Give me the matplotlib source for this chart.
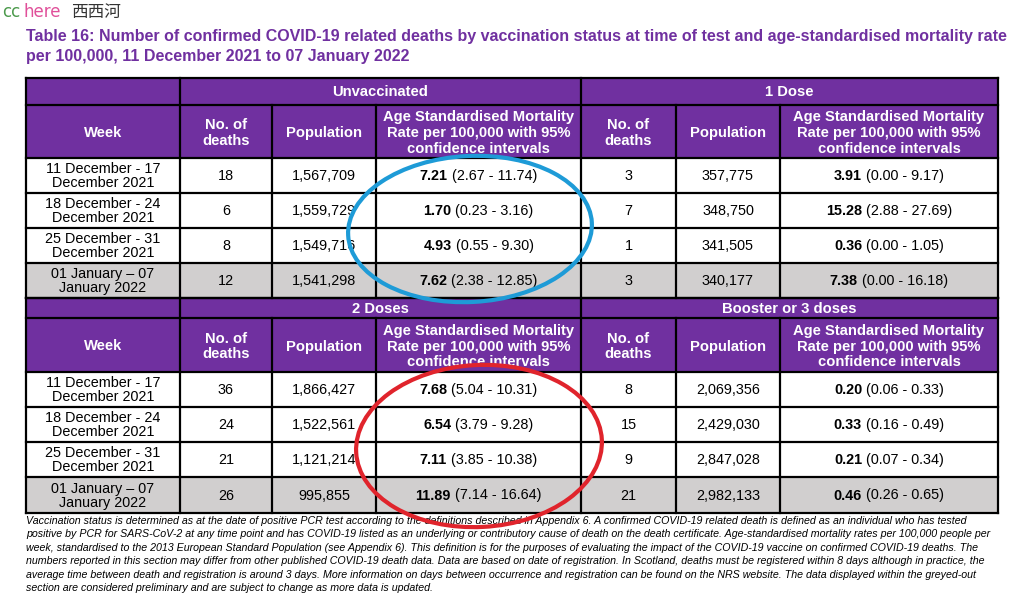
#!/usr/bin/env python3
"""Redraw Table 16 (COVID-19 deaths by vaccination status) as a matplotlib figure."""

import matplotlib.pyplot as plt
from matplotlib.patches import Ellipse, Rectangle

plt.rcParams["font.family"] = ["Liberation Sans", "DejaVu Sans"]

PURPLE = "#7030A0"
GREY = "#D1CFCF"

TITLE_LINES = [
    "Table 16: Number of confirmed COVID-19 related deaths by vaccination status at time of test and age-standardised mortality rate",
    "per 100,000, 11 December 2021 to 07 January 2022",
]

WEEKS = [
    "11 December - 17\nDecember 2021",
    "18 December - 24\nDecember 2021",
    "25 December - 31\nDecember 2021",
    "01 January \u2013 07\nJanuary 2022",
]
SUB_HEADERS = [
    "No. of\ndeaths",
    "Population",
    "Age Standardised Mortality\nRate per 100,000 with 95%\nconfidence intervals",
]

GROUPS = ["Unvaccinated", "1 Dose", "2 Doses", "Booster or 3 doses"]
deaths = {
    "Unvaccinated": [18, 6, 8, 12],
    "1 Dose": [3, 7, 1, 3],
    "2 Doses": [36, 24, 21, 26],
    "Booster or 3 doses": [8, 15, 9, 21],
}
population = {
    "Unvaccinated": [1567709, 1559729, 1549716, 1541298],
    "1 Dose": [357775, 348750, 341505, 340177],
    "2 Doses": [1866427, 1522561, 1121214, 995855],
    "Booster or 3 doses": [2069356, 2429030, 2847028, 2982133],
}
rate = {
    "Unvaccinated": [7.21, 1.70, 4.93, 7.62],
    "1 Dose": [3.91, 15.28, 0.36, 7.38],
    "2 Doses": [7.68, 6.54, 7.11, 11.89],
    "Booster or 3 doses": [0.20, 0.33, 0.21, 0.46],
}
rate_low = {
    "Unvaccinated": [2.67, 0.23, 0.55, 2.38],
    "1 Dose": [0.00, 2.88, 0.00, 0.00],
    "2 Doses": [5.04, 3.79, 3.85, 7.14],
    "Booster or 3 doses": [0.06, 0.16, 0.07, 0.26],
}
rate_high = {
    "Unvaccinated": [11.74, 3.16, 9.30, 12.85],
    "1 Dose": [9.17, 27.69, 1.05, 16.18],
    "2 Doses": [10.31, 9.28, 10.38, 16.64],
    "Booster or 3 doses": [0.33, 0.49, 0.34, 0.65],
}
GREY_ROWS = [False, False, False, True]

FOOTNOTE = [
    "Vaccination status is determined as at the date of positive PCR test according to the definitions described in Appendix 6. A confirmed COVID-19 related death is defined as an individual who has tested",
    "positive by PCR for SARS-CoV-2 at any time point and has COVID-19 listed as an underlying or contributory cause of death on the death certificate. Age-standardised mortality rates per 100,000 people per",
    "week, standardised to the 2013 European Standard Population (see Appendix 6). This definition is for the purposes of evaluating the impact of the COVID-19 vaccine on confirmed COVID-19 deaths. The",
    "numbers reported in this section may differ from other published COVID-19 death data. Data are based on date of registration. In Scotland, deaths must be registered within 8 days although in practice, the",
    "average time between death and registration is around 3 days. More information on days between occurrence and registration can be found on the NRS website. The data displayed within the greyed-out",
    "section are considered preliminary and are subject to change as more data is updated.",
]

# layout, in pixels of the 1012x600 image
COL_X = [26, 180, 272, 376, 581, 676, 780, 998]
BLOCKS = [
    # (group row top, group row bottom, header bottom, data row bottoms, groups)
    (78, 105, 158, [193, 228, 263, 298], ("Unvaccinated", "1 Dose")),
    (298, 318, 372, [407, 442, 477, 513], ("2 Doses", "Booster or 3 doses")),
]
FS_HEAD = 10.6
FS_CELL = 10.4
LW = 1.6


def fmt_int(v: int) -> str:
    return f"{v:,}"


def mixed_text(ax, renderer, cx, cy, bold, rest):
    t1 = ax.text(0, cy, bold, fontsize=FS_CELL, weight="bold", ha="left", va="center")
    t2 = ax.text(0, cy, rest, fontsize=FS_CELL, ha="left", va="center")
    w1 = t1.get_window_extent(renderer).width
    w2 = t2.get_window_extent(renderer).width
    x0 = cx - (w1 + w2) / 2
    t1.set_x(x0)
    t2.set_x(x0 + w1)


def draw_block(ax, renderer, top, grp_bot, head_bot, row_bots, groups):
    left, right = COL_X[0], COL_X[-1]
    ax.add_patch(Rectangle((left, top), right - left, head_bot - top, color=PURPLE, lw=0, zorder=0))
    row_tops = [head_bot] + row_bots[:-1]
    for r, (y0, y1) in enumerate(zip(row_tops, row_bots)):
        if GREY_ROWS[r]:
            ax.add_patch(Rectangle((left, y0), right - left, y1 - y0, color=GREY, lw=0, zorder=0))

    # group header
    for g, (x0, x1) in zip(groups, [(COL_X[1], COL_X[4]), (COL_X[4], COL_X[7])]):
        ax.text((x0 + x1) / 2, (top + grp_bot) / 2 + 1, g, color="white", weight="bold",
                fontsize=FS_HEAD, ha="center", va="center")
    # sub headers
    hy = (grp_bot + head_bot) / 2 + 1.5
    ax.text((COL_X[0] + COL_X[1]) / 2, hy, "Week", color="white", weight="bold",
            fontsize=FS_HEAD, ha="center", va="center")
    for half in range(2):
        for k, label in enumerate(SUB_HEADERS):
            c0, c1 = COL_X[1 + half * 3 + k], COL_X[2 + half * 3 + k]
            ax.text((c0 + c1) / 2, hy, label, color="white", weight="bold", fontsize=FS_HEAD,
                    ha="center", va="center", linespacing=1.15)

    # data rows
    for r, (y0, y1) in enumerate(zip(row_tops, row_bots)):
        cy = (y0 + y1) / 2 + 0.5
        ax.text((COL_X[0] + COL_X[1]) / 2, cy, WEEKS[r], fontsize=FS_CELL, ha="center",
                va="center", linespacing=1.0)
        for half, g in enumerate(groups):
            base = 1 + half * 3
            ax.text((COL_X[base] + COL_X[base + 1]) / 2, cy, str(deaths[g][r]),
                    fontsize=FS_CELL, ha="center", va="center")
            ax.text((COL_X[base + 1] + COL_X[base + 2]) / 2, cy, fmt_int(population[g][r]),
                    fontsize=FS_CELL, ha="center", va="center")
            mixed_text(ax, renderer, (COL_X[base + 2] + COL_X[base + 3]) / 2, cy,
                       f"{rate[g][r]:.2f}", f" ({rate_low[g][r]:.2f} - {rate_high[g][r]:.2f})")

    # grid lines
    for y in [top, grp_bot, head_bot] + row_bots:
        ax.plot([left, right], [y, y], color="black", lw=LW, solid_capstyle="projecting")
    for i, x in enumerate(COL_X):
        y_start = top if i in (0, 1, 4, 7) else grp_bot
        ax.plot([x, x], [y_start, row_bots[-1]], color="black", lw=LW, solid_capstyle="projecting")


def main() -> None:
    fig = plt.figure(figsize=(10.12, 6.0), dpi=100)
    ax = fig.add_axes([0, 0, 1, 1])
    ax.set_xlim(0, 1012)
    ax.set_ylim(600, 0)
    ax.axis("off")
    renderer = fig.canvas.get_renderer()

    # watermark
    ax.text(2, 12, "cc", color="#4C9A4C", fontsize=12, ha="left", va="center", family="DejaVu Sans")
    ax.text(24, 12, "here", color="#E0509A", fontsize=12, ha="left", va="center", family="DejaVu Sans")
    ax.text(71, 12, "西西河", color="#333333", fontsize=12, ha="left", va="center",
            family=["Noto Sans CJK SC", "DejaVu Sans"])

    for i, line in enumerate(TITLE_LINES):
        ax.text(26, 37 + i * 20, line, color=PURPLE, weight="bold", fontsize=11.5,
                ha="left", va="center")

    for top, grp_bot, head_bot, row_bots, groups in BLOCKS:
        draw_block(ax, renderer, top, grp_bot, head_bot, row_bots, groups)

    for i, line in enumerate(FOOTNOTE):
        ax.text(26, 521 + i * 13.4, line, style="italic", fontsize=7.67, ha="left", va="center")

    # hand-drawn highlight circles
    ax.add_patch(Ellipse((470, 229), 244, 146, angle=-3, fill=False, ec="#1E9BD7", lw=3, zorder=5))
    ax.add_patch(Ellipse((479, 446), 246, 162, angle=-3, fill=False, ec="#E0242C", lw=3, zorder=5))

    fig.savefig("out.png", dpi=100)
    plt.close(fig)


if __name__ == "__main__":
    main()
